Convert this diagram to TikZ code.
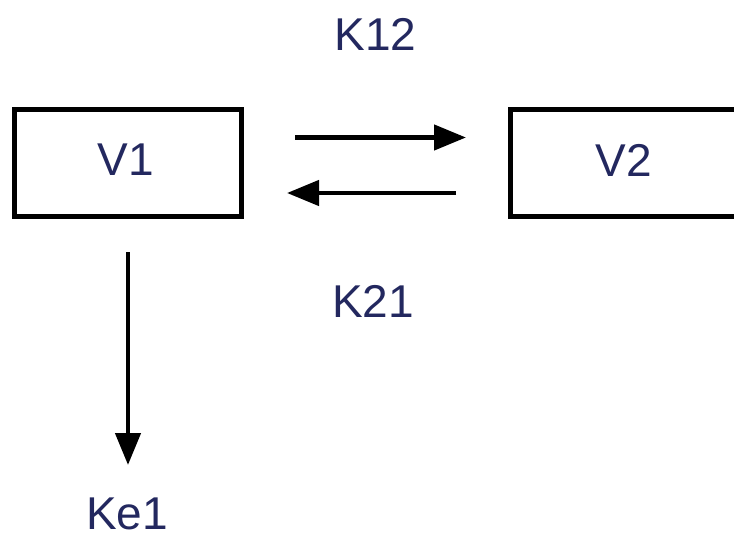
\documentclass[tikz,border=0pt]{standalone}
\usepackage{fontspec}
\setmainfont{Liberation Sans}
\usetikzlibrary{arrows.meta}
\definecolor{labelink}{RGB}{35,40,95}
\tikzset{
  compartment/.style={draw=black, line width=5pt, minimum width=227pt, minimum height=107pt, inner sep=0pt},
  lbl/.style={inner sep=0pt, text=labelink, font=\fontsize{46}{50}\selectfont},
  flow/.style={draw=black, line width=4.5pt, -{Triangle[length=32pt,width=25pt]}}
}
\begin{document}
\begin{tikzpicture}[x=1pt, y=-1pt]
  \useasboundingbox (0,0) rectangle (734,535);
  \clip (0,0) rectangle (734,535);
  % compartments
  \node[compartment] (v1box) at (128,163) {};
  \node[compartment] (v2box) at (624,163) {};
  \node[lbl] (v1) at (125.5,160) {V1};
  \node[lbl] (v2) at (623.5,160) {V2};
  % rate constant labels
  \node[lbl] (k12) at (375.5,34.5) {K12};
  \node[lbl] (k21) at (373,301) {K21};
  \node[lbl] (ke1) at (127,514) {Ke1};
  % transfer arrows
  \coordinate (f12s) at (295,137.5);
  \coordinate (f12e) at (466,137.5);
  \coordinate (f21s) at (456,193);
  \coordinate (f21e) at (287,193);
  \coordinate (els) at (128,252);
  \coordinate (ele) at (128,465);
  \draw[flow] (f12s) -- (f12e);
  \draw[flow] (f21s) -- (f21e);
  \draw[flow] (els) -- (ele);
\end{tikzpicture}
\end{document}
